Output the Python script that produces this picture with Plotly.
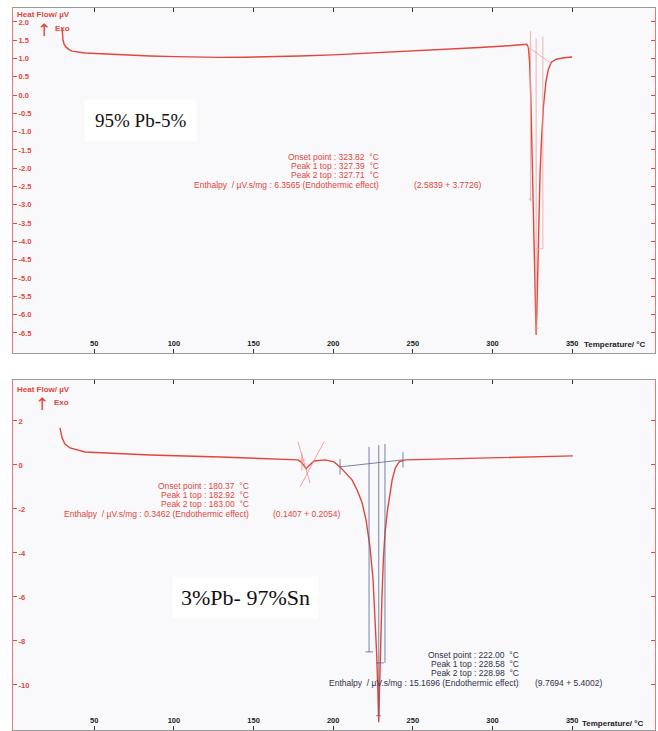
import plotly.graph_objects as go

# ---------------- 95% Pb - 5% Sn ----------------
pb_temp = [29.8, 30.4, 31.2, 32.3, 34.0, 36.0, 44.2, 66.2, 85.0, 100.7, 115.0, 129.0, 145.0,
           160.0, 179.0, 200.0, 220.0, 242.0, 265.0, 292.0, 310.0,
           321.5, 322.5, 323.3, 324.0, 324.8, 325.6, 326.4, 327.0, 327.39,
           327.8, 328.4, 329.0, 329.8, 330.8, 332.0, 333.5, 335.0, 337.0, 340.0, 345.0, 350.0]
pb_flow = [1.83, 1.50, 1.38, 1.31, 1.25, 1.20, 1.15, 1.10, 1.07, 1.05, 1.035, 1.03, 1.035,
           1.045, 1.07, 1.10, 1.14, 1.18, 1.23, 1.30, 1.35,
           1.39, 1.30, 0.90, 0.00, -1.40, -3.00, -4.80, -6.00, -6.55,
           -6.00, -4.80, -3.40, -2.20, -1.20, -0.30, 0.35, 0.70, 0.90, 0.98, 1.02, 1.04]

# construction lines of the 327 °C evaluation
pb_base_t = [319.0, 337.0]
pb_base_v = [1.42, 0.86]
pb_vert_t = [323.82, 327.39, 331.6]
pb_vert_top = [1.75, 1.55, 1.60]
pb_vert_bot = [-2.9, -6.5, -4.2]
pb_mark_t = [(322.6, 326.0), (327.0, 331.8), (326.2, 329.4)]
pb_mark_v = [-2.84, -4.20, -6.37]

pb_yticks = [2.0, 1.5, 1.0, 0.5, 0.0, -0.5, -1.0, -1.5, -2.0, -2.5, -3.0, -3.5,
             -4.0, -4.5, -5.0, -5.5, -6.0, -6.5]
pb_ytext = ["2.0", "1.5", "1.0", "0.5", "0.0", "-0.5", "-1.0", "-1.5", "-2.0", "-2.5",
            "-3.0", "-3.5", "-4.0", "-4.5", "-5.0", "-5.5", "-6.0", "-6.5"]

pb_info = ["Onset point : 323.82  °C", "Peak 1 top : 327.39  °C", "Peak 2 top : 327.71  °C",
           "Enthalpy  / µV.s/mg : 6.3565 (Endothermic effect)"]
pb_parts = "(2.5839 + 3.7726)"

# ---------------- 3% Pb - 97% Sn ----------------
sn_temp = [28.5, 29.8, 31.6, 34.8, 44.2, 53.6, 85.0, 129.0, 166.6, 178.0, 180.4, 182.3, 183.0,
           183.8, 185.4, 188.0, 194.9, 200.5, 204.3, 208.0, 211.8, 215.0, 218.0, 220.6, 223.1,
           225.0, 226.3, 227.3, 228.0, 228.58, 229.1, 229.7, 230.6, 231.5, 232.5, 234.0, 235.3,
           237.0, 239.0, 241.4, 245.2, 273.3, 304.7, 350.5]
sn_flow = [1.68, 1.23, 0.95, 0.77, 0.59, 0.55, 0.45, 0.36, 0.27, 0.23, 0.09, -0.14, -0.18,
           -0.10, 0.00, 0.18, 0.23, 0.14, -0.09, -0.36, -0.68, -1.14, -1.68, -2.50, -3.73,
           -5.20, -7.00, -8.60, -10.20, -11.70, -10.20, -8.30, -6.00, -4.30, -3.10, -2.10, -1.50,
           -0.68, -0.14, 0.14, 0.23, 0.27, 0.32, 0.41]

# tangents of the small 183 °C event
sn_tan_t = [(177.9, 185.4), (194.2, 179.2)]
sn_tan_v = [(1.05, -0.82), (1.05, -1.00)]
# construction lines of the 228 °C evaluation
sn_base_t = [204.3, 243.8]
sn_base_v = [-0.09, 0.23]
sn_vert_t = [222.5, 228.6, 232.5]
sn_vert_top = [0.82, 0.90, 0.95]
sn_vert_bot = [-8.5, -11.4, -9.0]
sn_mark_t = [(220.3, 225.0), (226.8, 231.8), (227.0, 230.0)]
sn_mark_v = [-8.5, -9.0, -11.4]

sn_yticks = [2, 0, -2, -4, -6, -8, -10]
sn_ytext = ["2", "0", "-2", "-4", "-6", "-8", "-10"]

sn_info1 = ["Onset point : 180.37  °C", "Peak 1 top : 182.92  °C", "Peak 2 top : 183.00  °C",
            "Enthalpy  / µV.s/mg : 0.3462 (Endothermic effect)"]
sn_parts1 = "(0.1407 + 0.2054)"
sn_info2 = ["Onset point : 222.00  °C", "Peak 1 top : 228.58  °C", "Peak 2 top : 228.98  °C",
            "Enthalpy  / µV.s/mg : 15.1696 (Endothermic effect)"]
sn_parts2 = "(9.7694 + 5.4002)"

x_ticks = [50, 100, 150, 200, 250, 300, 350]
x_text = ["50", "100", "150", "200", "250", "300", "350"]

W, H = 658, 731
RED = "#e2453c"
PALE = "#eaa39b"
NAVY = "#56648e"
DARK = "#2e3148"
SANS = "Liberation Sans, Arial, sans-serif"


def px(x):
    return x / W


def py(y):
    return 1 - y / H


fig = go.Figure()

# main curves
fig.add_trace(go.Scatter(x=pb_temp, y=pb_flow, mode="lines", xaxis="x", yaxis="y",
                         line=dict(color=RED, width=1.4)))
fig.add_trace(go.Scatter(x=sn_temp, y=sn_flow, mode="lines", xaxis="x2", yaxis="y2",
                         line=dict(color=RED, width=1.4)))


def seg(xs, ys, ax, color, width=0.8):
    fig.add_trace(go.Scatter(x=list(xs), y=list(ys), mode="lines", xaxis=ax[0], yaxis=ax[1],
                             line=dict(color=color, width=width)))


# top panel construction lines
seg(pb_base_t, pb_base_v, ("x", "y"), PALE)
for t, a, b in zip(pb_vert_t, pb_vert_top, pb_vert_bot):
    seg((t, t), (a, b), ("x", "y"), PALE)
for ts, v in zip(pb_mark_t, pb_mark_v):
    seg(ts, (v, v), ("x", "y"), PALE)

# bottom panel construction lines
for ts, vs in zip(sn_tan_t, sn_tan_v):
    seg(ts, vs, ("x2", "y2"), "#ee8a80")
seg((180.37, 180.37), (0.55, -0.25), ("x2", "y2"), "#ee8a80")
seg((178.8, 182.5), (0.22, 0.22), ("x2", "y2"), "#ee8a80")
seg(sn_base_t, sn_base_v, ("x2", "y2"), NAVY)
for t, v in zip(sn_base_t, sn_base_v):
    seg((t, t), (v + 0.35, v - 0.35), ("x2", "y2"), NAVY)
for t, a, b in zip(sn_vert_t, sn_vert_top, sn_vert_bot):
    seg((t, t), (a, b), ("x2", "y2"), NAVY)
for ts, v in zip(sn_mark_t, sn_mark_v):
    seg(ts, (v, v), ("x2", "y2"), NAVY)

xaxis_common = dict(
    range=[-1, 402], tickvals=x_ticks, ticktext=x_text,
    ticks="inside", ticklen=4, tickcolor="#333333", ticklabelposition="inside",
    tickfont=dict(family=SANS, size=7.5, color="#222222", weight="bold"),
    showline=True, linecolor="#9a9a9a", linewidth=1, mirror="ticks",
    showgrid=False, zeroline=False, fixedrange=True,
)
yaxis_common = dict(
    ticks="inside", ticklen=4, tickcolor=RED, ticklabelposition="inside",
    tickfont=dict(family=SANS, size=7.5, color=RED, weight="bold"),
    showline=True, linecolor="#e07a72", linewidth=1, mirror="ticks",
    showgrid=False, zeroline=False, fixedrange=True,
)

top_dom = [py(353), py(8)]
bot_dom = [py(730), py(380)]
x_dom = [px(13), px(655)]

fig.update_layout(
    width=W, height=H, autosize=False,
    margin=dict(l=0, r=0, t=0, b=0),
    paper_bgcolor="white", plot_bgcolor="#f9f9fb",
    showlegend=False,
    xaxis=dict(domain=x_dom, anchor="y", **xaxis_common),
    yaxis=dict(domain=top_dom, anchor="x", range=[-7.05, 2.38],
               tickvals=pb_yticks, ticktext=pb_ytext, **yaxis_common),
    xaxis2=dict(domain=x_dom, anchor="y2", **xaxis_common),
    yaxis2=dict(domain=bot_dom, anchor="x2", range=[-12.05, 3.86],
                tickvals=sn_yticks, ticktext=sn_ytext, **yaxis_common),
)

ann = []


def text(x, y, s, size=8.5, color=RED, xanchor="left", weight="normal", family=SANS, **kw):
    ann.append(dict(x=px(x), y=py(y), xref="paper", yref="paper", text=s, showarrow=False,
                    xanchor=xanchor, yanchor="middle",
                    font=dict(family=family, size=size, color=color, weight=weight), **kw))


# panel headings
text(15, 15, "Heat Flow/ µV", size=8, weight="bold")
text(15, 389, "Heat Flow/ µV", size=8, weight="bold")
text(35, 30, "↑", size=17, family="DejaVu Sans ExtraLight, DejaVu Sans")
text(53, 29, "Exo", size=8, weight="bold")
text(33, 404, "↑", size=17, family="DejaVu Sans ExtraLight, DejaVu Sans")
text(52, 402, "Exo", size=8, weight="bold")

# axis titles
text(582, 345, "Temperature/ °C", size=8, color="#222222", weight="bold")
text(580, 723, "Temperature/ °C", size=8, color="#222222", weight="bold")

# evaluation results
for i, s in enumerate(pb_info):
    text(381, 157 + 9.2 * i, s, xanchor="right")
text(412, 184.6, pb_parts)
for i, s in enumerate(sn_info1):
    text(251, 486 + 9.2 * i, s, xanchor="right")
text(271, 513.6, sn_parts1)
for i, s in enumerate(sn_info2):
    text(521, 655 + 9.2 * i, s, xanchor="right", color=DARK)
text(533, 682.6, sn_parts2, color=DARK)

# sample names
ann.append(dict(x=px(140), y=py(120), xref="paper", yref="paper", text="95% Pb-5%",
                showarrow=False, xanchor="center", yanchor="middle", bgcolor="white",
                borderpad=10, font=dict(family="Liberation Serif, Times New Roman, serif",
                                        size=19, color="#111111")))
ann.append(dict(x=px(245), y=py(597), xref="paper", yref="paper", text="3%Pb- 97%Sn",
                showarrow=False, xanchor="center", yanchor="middle", bgcolor="white",
                borderpad=8, font=dict(family="Liberation Serif, Times New Roman, serif",
                                       size=22, color="#111111")))

fig.update_layout(annotations=ann)
fig.write_html("out.html")
